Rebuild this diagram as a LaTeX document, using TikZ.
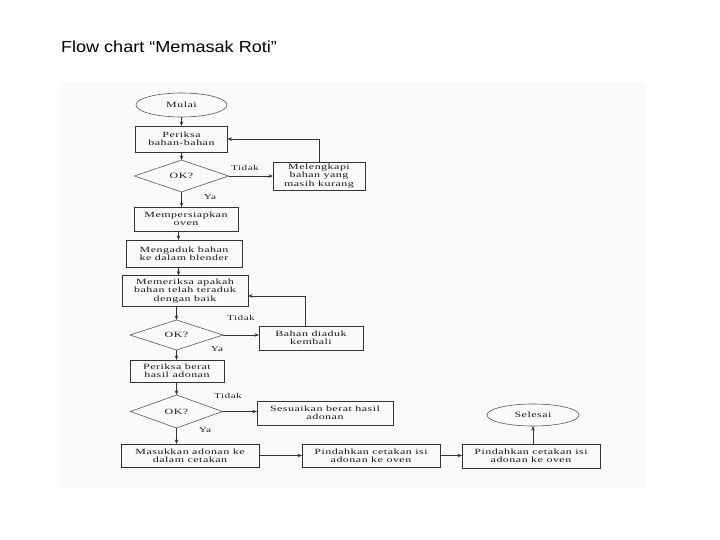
\documentclass[tikz,border=0pt]{standalone}
\usepackage{fontspec}
\setmainfont{Liberation Serif}
\newfontfamily\scanfont[FakeStretch=1.5,LetterSpace=6]{Liberation Serif}
\newfontfamily\titlefont[FakeStretch=1.13]{Liberation Sans}
\usetikzlibrary{shapes.geometric,arrows.meta}
\begin{document}
\begin{tikzpicture}[x=1pt,y=-1pt,
  every node/.style={inner sep=0pt, outer sep=0pt},
  txt/.style={font=\scanfont\fontsize{8}{8.2}\selectfont, text=black!90, align=center},
  procbox/.style={txt, draw=black!80, line width=0.75pt, rectangle},
  decision/.style={txt, draw=black!65, line width=0.6pt, diamond},
  terminal/.style={txt, draw=black!65, line width=0.6pt, ellipse},
  lbl/.style={font=\scanfont\fontsize{7.5}{8}\selectfont, text=black!85},
  flow/.style={draw=black!80, line width=0.7pt, -{Stealth[length=4.5pt,width=3.5pt]}}]

\useasboundingbox (0,0) rectangle (720,540);
\fill[black!2] (60,82) rectangle (645,488);

\node[anchor=base west, font=\titlefont\fontsize{16}{18}\selectfont] (title) at (61,53) {Flow chart “Memasak Roti”};

\coordinate (colB) at (178.5,0);
\coordinate (colC) at (176.5,0);

\node[terminal, minimum width=91pt, minimum height=24pt] (mulai) at (181.5,105) {Mulai};
\node[procbox, minimum width=92pt, minimum height=26pt] (periksa) at (181.5,139) {Periksa\\bahan-bahan};
\node[decision, minimum width=94pt, minimum height=32pt] (ok1) at (181.5,176) {OK?};
\node[procbox, minimum width=92pt, minimum height=28pt] (melengkapi) at (319,176) {Melengkapi\\bahan yang\\masih kurang};
\node[procbox, minimum width=104pt, minimum height=24pt] (persiapkan) at (186,219) {Mempersiapkan\\oven};
\node[procbox, minimum width=116pt, minimum height=27pt] (mengaduk) at (184,253.5) {Mengaduk bahan\\ke dalam blender};
\node[procbox, minimum width=126pt, minimum height=31pt] (memeriksa) at (185,291) {Memeriksa apakah\\bahan telah teraduk\\dengan baik};
\node[decision, minimum width=93pt, minimum height=30pt] (ok2) at (176.5,335) {OK?};
\node[procbox, minimum width=104pt, minimum height=24pt] (bahan) at (311,338) {Bahan diaduk\\kembali};
\node[procbox, minimum width=94pt, minimum height=22pt] (periksaberat) at (177,371) {Periksa berat\\hasil adonan};
\node[decision, minimum width=92pt, minimum height=33pt] (ok3) at (176.5,411.5) {OK?};
\node[procbox, minimum width=136pt, minimum height=24pt] (sesuaikan) at (325,413) {Sesuaikan berat hasil\\adonan};
\node[procbox, minimum width=138pt, minimum height=23pt] (masukkan) at (190,455.5) {Masukkan adonan ke\\dalam cetakan};
\node[procbox, minimum width=138pt, minimum height=23pt] (pindah1) at (371,455.5) {Pindahkan cetakan isi\\adonan ke oven};
\node[procbox, minimum width=138pt, minimum height=24pt] (pindah2) at (531,456) {Pindahkan cetakan isi\\adonan ke oven};
\node[terminal, minimum width=92pt, minimum height=22pt] (selesai) at (533,415) {Selesai};

\node[lbl] (t1) at (245,168) {Tidak};
\node[lbl] (y1) at (210,197) {Ya};
\node[lbl] (t2) at (241,318) {Tidak};
\node[lbl] (y2) at (217,349) {Ya};
\node[lbl] (t3) at (228,396) {Tidak};
\node[lbl] (y3) at (205,430) {Ya};

\draw[flow] (mulai) -- (periksa);
\draw[flow] (periksa) -- (ok1);
\draw[flow] (ok1) -- (melengkapi);
\draw[flow] (melengkapi.north) |- (periksa.east);
\draw[flow] (ok1.south) -- (ok1.south |- persiapkan.north);
\draw[flow] (colB |- persiapkan.south) -- (colB |- mengaduk.north);
\draw[flow] (colB |- mengaduk.south) -- (colB |- memeriksa.north);
\draw[flow] (colC |- memeriksa.south) -- (ok2.north);
\draw[flow] (ok2.east) -- (ok2.east -| bahan.west);
\draw[flow] ([xshift=-6pt]bahan.north) |- ([yshift=-5pt]memeriksa.east);
\draw[flow] (ok2.south) -- (ok2.south |- periksaberat.north);
\draw[flow] (colC |- periksaberat.south) -- (ok3.north);
\draw[flow] (ok3.east) -- (ok3.east -| sesuaikan.west);
\draw[flow] (ok3.south) -- (ok3.south |- masukkan.north);
\draw[flow] (masukkan) -- (pindah1);
\draw[flow] (pindah1.east) -- (pindah1.east -| pindah2.west);
\draw[flow] (selesai.south |- pindah2.north) -- (selesai.south);
\end{tikzpicture}
\end{document}
